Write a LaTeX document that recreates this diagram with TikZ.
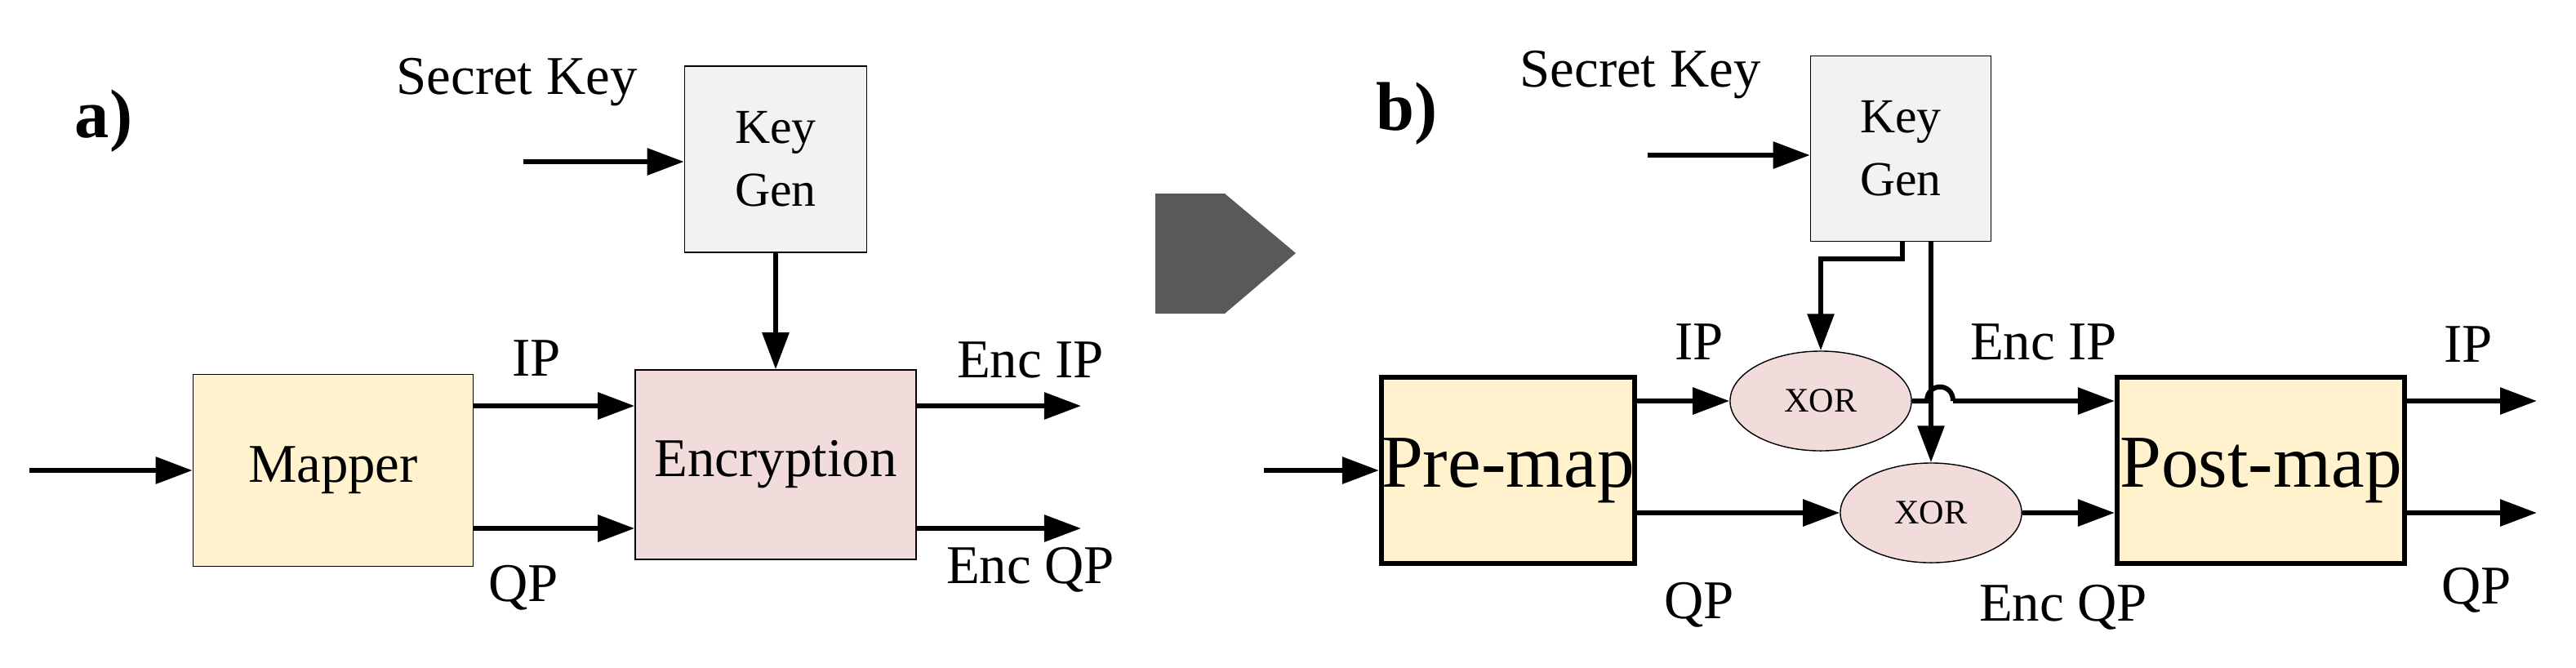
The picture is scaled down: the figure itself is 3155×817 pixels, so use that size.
\documentclass[tikz,border=0pt]{standalone}
\usepackage{fontspec}
\setmainfont{Liberation Serif}
\usetikzlibrary{arrows.meta,shapes.geometric}
\definecolor{mapyellow}{HTML}{FFF2CC}
\definecolor{encpink}{HTML}{F2DCDB}
\definecolor{keygray}{HTML}{F2F2F2}
\definecolor{bigarrow}{HTML}{595959}
\tikzset{
  blk/.style={draw=black,line width=0.4pt,inner sep=0pt},
  conn/.style={line width=1.7pt,-{Triangle[length=0.45cm,width=0.32cm]}},
  wire/.style={line width=1.7pt},
  lbl/.style={font=\fontsize{19}{21}\selectfont}
}
\begin{document}
\begin{tikzpicture}[x=0.01cm,y=-0.01cm]
            \useasboundingbox (0,0) rectangle (3155,817);
            % panel a
            \node[font=\bfseries\fontsize{24}{26}\selectfont] (la) at (127,148) {a)};
            \node[lbl] (ska) at (633,101) {Secret Key};
            \node[blk,fill=keygray,minimum width=2.23cm,minimum height=2.28cm,align=center,font=\fontsize{17}{22}\selectfont] (kga) at (950,195) {Key\\Gen};
            \node[blk,fill=mapyellow,minimum width=3.43cm,minimum height=2.35cm,lbl] (mapper) at (408,576) {Mapper};
            \node[blk,fill=encpink,minimum width=3.44cm,minimum height=2.32cm,lbl] (enc) at (950,569) {Encryption};
            \coordinate (ina) at (36,576);
            \coordinate (kina) at (641,198);
            \coordinate (eipa) at (1324,497);
            \coordinate (eqpa) at (1324,647);

            \draw[conn] (kina) -- (kga.west |- kina);
            \draw[conn] (ina) -- (mapper.west);
            \draw[conn] (kga.south) -- (enc.north);
            \draw[conn] (mapper.east |- eipa) -- (enc.west |- eipa);
            \draw[conn] (mapper.east |- eqpa) -- (enc.west |- eqpa);
            \draw[conn] (enc.east |- eipa) -- (eipa);
            \draw[conn] (enc.east |- eqpa) -- (eqpa);
            \node[lbl] (ipa) at (657,439) {IP};
            \node[lbl] (qpa) at (641,720) {QP};
            \node[lbl] (encipa) at (1262,441) {Enc IP};
            \node[lbl] (encqpa) at (1262,698) {Enc QP};

            % big arrow
            \fill[bigarrow] (1415,237) -- (1500,237) -- (1587,310) -- (1500,384) -- (1415,384) -- cycle;

            % panel b
            \node[font=\bfseries\fontsize{24}{26}\selectfont] (lb) at (1723,139) {b)};
            \node[lbl] (skb) at (2009,92) {Secret Key};
            \node[blk,fill=keygray,minimum width=2.21cm,minimum height=2.27cm,align=center,font=\fontsize{17}{22}\selectfont] (kgb) at (2328,182) {Key\\Gen};
            \node[blk,line width=1.7pt,fill=mapyellow,minimum width=3.1cm,minimum height=2.28cm,font=\fontsize{26}{28}\selectfont] (premap) at (1847,576) {Pre-map};
            \node[blk,line width=1.7pt,fill=mapyellow,minimum width=3.52cm,minimum height=2.28cm,font=\fontsize{26}{28}\selectfont] (postmap) at (2769,576) {Post-map};
            \node[blk,ellipse,fill=encpink,minimum width=2.22cm,minimum height=1.22cm,font=\fontsize{12}{14}\selectfont] (xor1) at (2230,491) {XOR};
            \node[blk,ellipse,fill=encpink,minimum width=2.22cm,minimum height=1.22cm,font=\fontsize{12}{14}\selectfont] (xor2) at (2365,628) {XOR};
            \coordinate (inb) at (1548,576);
            \coordinate (kinb) at (2018,190);
            \coordinate (bend) at (2330,317);
            \coordinate (oipb) at (3107,491);
            \coordinate (oqpb) at (3107,628);

            \draw[conn] (kinb) -- (kgb.west |- kinb);
            \draw[conn] (inb) -- (premap.west);
            \draw[conn] (kgb.south -| bend) -- (bend) -| (xor1.north);
            \draw[conn] (kgb.south -| xor2.north) -- (xor2.north);
            \draw[conn] (premap.east |- xor1) -- (xor1.west);
            \draw[conn] (premap.east |- xor2) -- (xor2.west);
            \draw[wire] (xor1.east) -- (2360,491) .. controls (2360,468) and (2392,468) .. (2392,491);
            \draw[conn] (2392,491) -- (postmap.west |- xor1);
            \draw[conn] (xor2.east) -- (postmap.west |- xor2);
            \draw[conn] (postmap.east |- oipb) -- (oipb);
            \draw[conn] (postmap.east |- oqpb) -- (oqpb);
            \node[lbl] (ipb) at (2081,419) {IP};
            \node[lbl] (qpb) at (2081,741) {QP};
            \node[lbl] (encipb) at (2503,419) {Enc IP};
            \node[lbl] (encqpb) at (2527,744) {Enc QP};
            \node[lbl] (ipo) at (3023,422) {IP};
            \node[lbl] (qpo) at (3033,723) {QP};
\end{tikzpicture}
\end{document}
